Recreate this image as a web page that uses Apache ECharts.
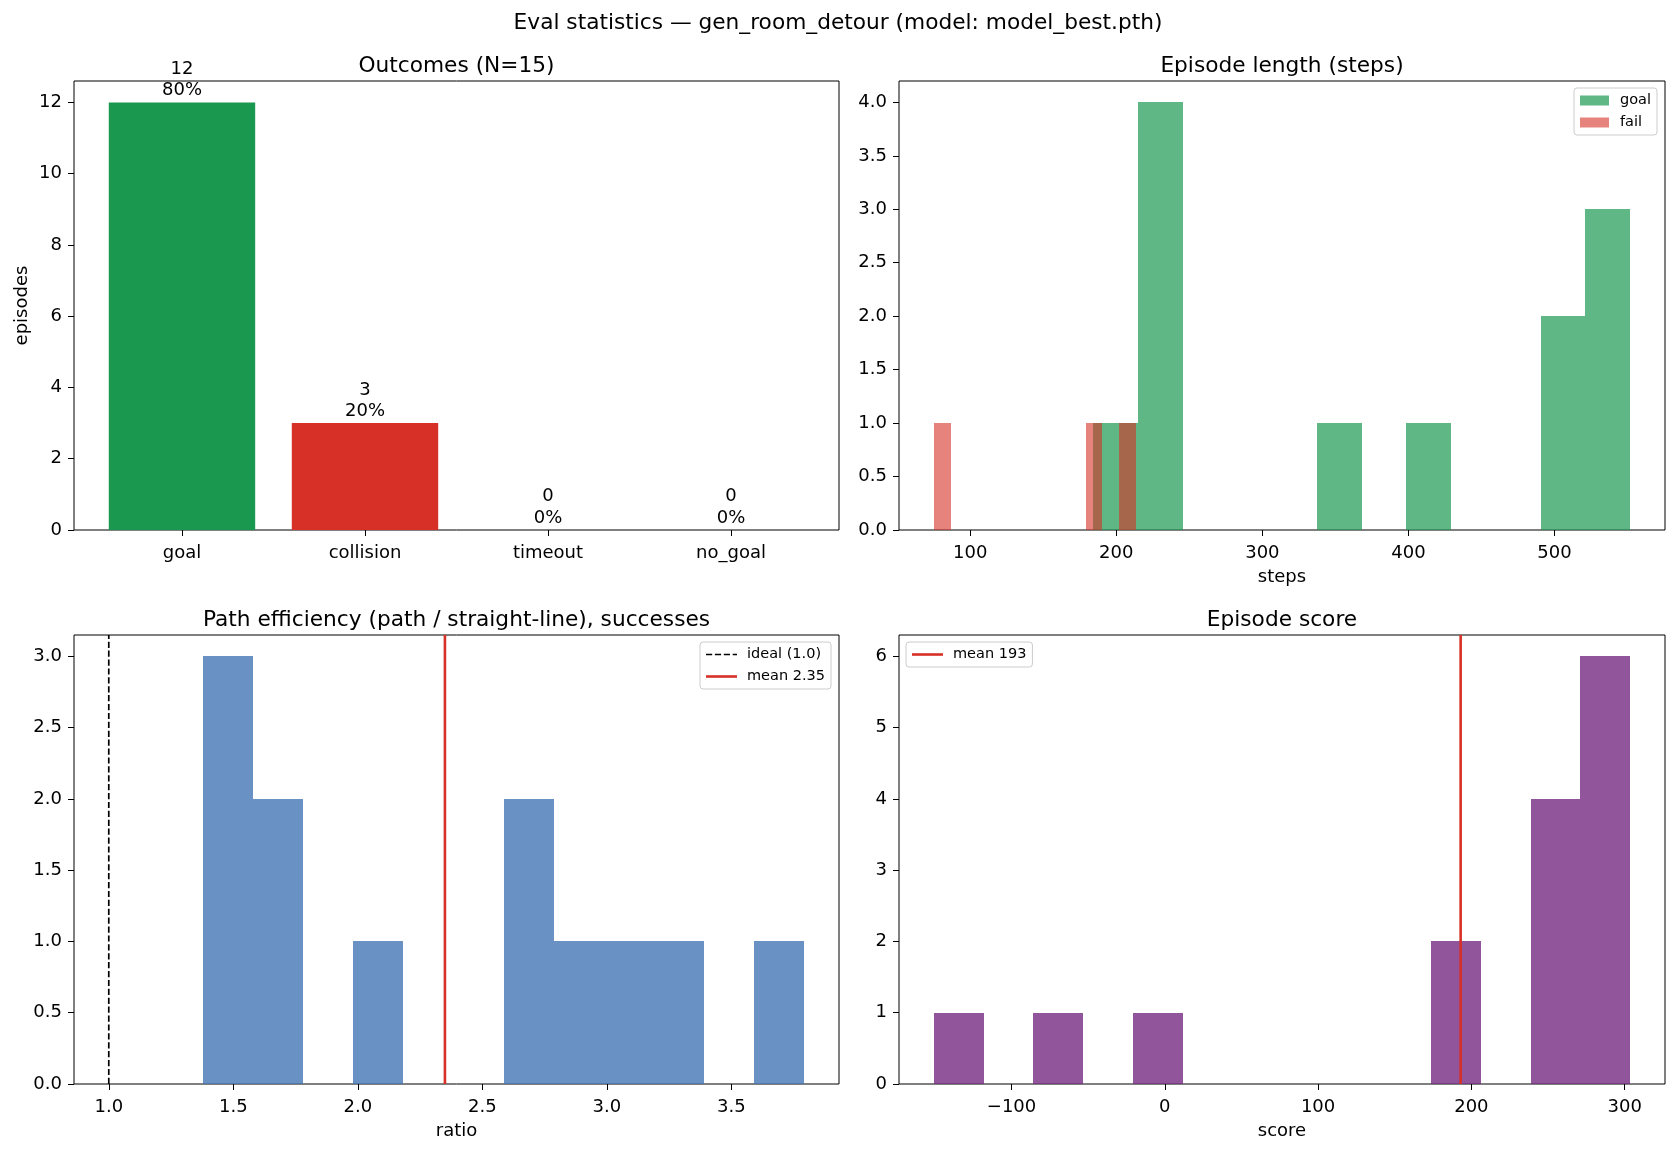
<!DOCTYPE html>
<html><head><meta charset="utf-8">
<script src="https://cdn.jsdelivr.net/npm/echarts@6/dist/echarts.min.js"></script>
<style>html,body{margin:0;padding:0;background:#fff}#c{width:1676px;height:1152px}</style>
</head><body><div id="c"></div>
<script>
// ---------- data ----------
const suptitleText = 'Eval statistics \u2014 gen_room_detour (model: model_best.pth)';
const outcomeCategories = ['goal', 'collision', 'timeout', 'no_goal'];
const outcomeCounts = [12, 3, 0, 0];
const outcomeColors = ['#1a9850', '#d73027', '#fee08b', '#91bfdb'];
const outcomeYTicks = [0, 2, 4, 6, 8, 10, 12];

const lenGoalRange = [184.3, 551.8];
const lenGoalCounts = [1, 4, 0, 0, 0, 1, 0, 1, 0, 0, 2, 3];
const lenFailRange = [75.1, 213.6];
const lenFailCounts = [1, 0, 0, 0, 0, 0, 0, 0, 0, 1, 0, 1];
const lenXTicks = [100, 200, 300, 400, 500];
const lenYTicks = [0, 0.5, 1, 1.5, 2, 2.5, 3, 3.5, 4];

const effRange = [1.378, 3.793];
const effCounts = [3, 2, 0, 1, 0, 0, 2, 1, 1, 1, 0, 1];
const effIdeal = 1.0;
const effMean = 2.35;
const effXTicks = [1.0, 1.5, 2.0, 2.5, 3.0, 3.5];
const effYTicks = [0, 0.5, 1, 1.5, 2, 2.5, 3];

const scoreRange = [-150.7, 303.6];
const scoreCounts = [1, 0, 1, 0, 1, 0, 0, 0, 0, 0, 2, 0, 4, 6];
const scoreMean = 193;
const scoreXTicks = [-100, 0, 100, 200, 300];
const scoreYTicks = [0, 1, 2, 3, 4, 5, 6];

// ---------- helpers ----------
const FONT = "'DejaVu Sans', sans-serif";
const TICK_FS = 18, TITLE_FS = 21.7, LEG_FS = 14.5;
const N = outcomeCounts.reduce((a, b) => a + b, 0);

function histBins(range, counts) {
  const w = (range[1] - range[0]) / counts.length;
  return counts.map((c, i) => [range[0] + i * w, range[0] + (i + 1) * w, c]).filter(d => d[2] > 0);
}
function padExtent(lo, hi) { const m = (hi - lo) * 0.05; return [lo - m, hi + m]; }

const outY = [0, Math.max(...outcomeCounts) * 1.05];
const outX = padExtent(-0.4, outcomeCounts.length - 1 + 0.4);
const lenX = padExtent(Math.min(lenGoalRange[0], lenFailRange[0]), Math.max(lenGoalRange[1], lenFailRange[1]));
const lenY = [0, Math.max(...lenGoalCounts, ...lenFailCounts) * 1.05];
const effX = padExtent(Math.min(effIdeal, effRange[0]), Math.max(effRange[1], effMean));
const effY = [0, Math.max(...effCounts) * 1.05];
const scoreX = padExtent(scoreRange[0], scoreRange[1]);
const scoreY = [0, Math.max(...scoreCounts) * 1.05];

const grids = [
  {left: 74, top: 81, width: 765, height: 449},
  {left: 899, top: 81, width: 766, height: 449},
  {left: 74, top: 635, width: 765, height: 449},
  {left: 899, top: 635, width: 766, height: 449}
].map(g => Object.assign(g, {show: true, borderColor: '#000', borderWidth: 1, backgroundColor: 'transparent', containLabel: false}));

function xAxis(gi, ext, ticks, fmt, name) {
  return {
    type: 'value', gridIndex: gi, min: ext[0], max: ext[1],
    axisLine: {show: false, onZero: false}, splitLine: {show: false},
    axisTick: {show: true, length: 6, customValues: ticks, lineStyle: {color: '#000', width: 1}},
    axisLabel: {customValues: ticks, formatter: fmt, color: '#000', fontSize: TICK_FS, fontFamily: FONT, margin: 14.5},
    name: name || '', nameLocation: 'middle', nameGap: 38,
    nameTextStyle: {color: '#000', fontSize: TICK_FS, fontFamily: FONT}
  };
}
function yAxis(gi, ext, ticks, fmt, name) {
  return {
    type: 'value', gridIndex: gi, min: ext[0], max: ext[1],
    axisLine: {show: false, onZero: false}, splitLine: {show: false},
    axisTick: {show: true, length: 6, customValues: ticks, lineStyle: {color: '#000', width: 1}},
    axisLabel: {customValues: ticks, formatter: fmt, color: '#000', fontSize: TICK_FS, fontFamily: FONT, margin: 12},
    name: name || '', nameLocation: 'middle', nameGap: 43, nameRotate: 90,
    nameTextStyle: {color: '#000', fontSize: TICK_FS, fontFamily: FONT}
  };
}
const fmtInt = v => String(Math.round(v)).replace('-', '\u2212');
const fmt1 = v => Number(v).toFixed(1);

function histRender(params, api) {
  const a = api.coord([api.value(0), 0]);
  const b = api.coord([api.value(1), api.value(2)]);
  const x0 = Math.round(a[0]), x1 = Math.round(b[0]);
  const y0 = Math.round(a[1]), y1 = Math.round(b[1]);
  return {type: 'rect', shape: {x: x0, y: y1, width: x1 - x0, height: y0 - y1},
          style: {fill: api.visual('color')}};
}
function histSeries(name, gi, range, counts, color) {
  return {
    type: 'custom', name: name, coordinateSystem: 'cartesian2d', xAxisIndex: gi, yAxisIndex: gi,
    itemStyle: {color: color}, encode: {x: [0, 1], y: 2},
    data: histBins(range, counts), renderItem: histRender, silent: true
  };
}
function vline(name, gi, xv, yMax, color, width, type) {
  return {
    type: 'line', name: name, xAxisIndex: gi, yAxisIndex: gi, symbol: 'none', silent: true,
    data: [[xv, 0], [xv, yMax]], itemStyle: {color: color},
    lineStyle: {color: color, width: width, type: type}, z: 5
  };
}

const outcomeSeries = {
  type: 'custom', name: 'outcomes', coordinateSystem: 'cartesian2d', xAxisIndex: 0, yAxisIndex: 0,
  encode: {x: 0, y: 1}, silent: true,
  data: outcomeCounts.map((c, i) => [i, c]),
  renderItem: function (params, api) {
    const i = api.value(0), c = api.value(1);
    const a = api.coord([i - 0.4, 0]);
    const b = api.coord([i + 0.4, c]);
    const pct = Math.round(100 * c / N);
    return {type: 'group', children: [
      {type: 'rect', shape: {x: a[0], y: b[1], width: b[0] - a[0], height: a[1] - b[1]},
       style: {fill: outcomeColors[i]}},
      {type: 'text', x: (a[0] + b[0]) / 2, y: b[1] - 1,
       style: {text: c + '\n' + pct + '%', align: 'center', verticalAlign: 'bottom',
               fontSize: TICK_FS, fontFamily: FONT, fill: '#000', lineHeight: 21.5}}
    ]};
  }
};

// legend icons for vertical reference lines (horizontal stroke samples)
const solidIcon = 'path://M0,0h31v2.6h-31z';
const dashedIcon = 'path://M0,0h6.2v1.7h-6.2z M8.9,0h6.2v1.7h-6.2z M17.8,0h6.2v1.7h-6.2z M26.7,0h4.3v1.7h-4.3z';

const legendCommon = {
  orient: 'vertical', padding: [5, 6, 5, 6], itemGap: 7,
  borderColor: '#cccccc', borderWidth: 1, borderRadius: 3, backgroundColor: 'rgba(255,255,255,0.8)',
  textStyle: {color: '#000', fontSize: LEG_FS, fontFamily: FONT, padding: [0, 0, 0, 6]},
  selectedMode: false
};
const meanEffName = 'mean ' + effMean.toFixed(2);
const idealName = 'ideal (' + effIdeal.toFixed(1) + ')';
const meanScoreName = 'mean ' + Math.round(scoreMean);

function titleText(x, y, text) {
  return {type: 'text', x: x, y: y, style: {text: text, align: 'center', verticalAlign: 'middle',
          fontSize: TITLE_FS, fontFamily: FONT, fill: '#000'}};
}

const option = {
  animation: false,
  backgroundColor: '#fff',
  grid: grids,
  xAxis: [
    xAxis(0, outX, [0, 1, 2, 3], v => outcomeCategories[Math.round(v)]),
    xAxis(1, lenX, lenXTicks, fmtInt, 'steps'),
    xAxis(2, effX, effXTicks, fmt1, 'ratio'),
    xAxis(3, scoreX, scoreXTicks, fmtInt, 'score')
  ],
  yAxis: [
    yAxis(0, outY, outcomeYTicks, fmtInt, 'episodes'),
    yAxis(1, lenY, lenYTicks, fmt1),
    yAxis(2, effY, effYTicks, fmt1),
    yAxis(3, scoreY, scoreYTicks, fmtInt)
  ],
  legend: [
    Object.assign({}, legendCommon, {right: 19, top: 88, itemWidth: 29, itemHeight: 10,
      data: [{name: 'goal', icon: 'rect'}, {name: 'fail', icon: 'rect'}]}),
    Object.assign({}, legendCommon, {right: 845, top: 642, itemWidth: 31, itemHeight: 14,
      textStyle: Object.assign({}, legendCommon.textStyle, {padding: [0, 0, 0, 5]}),
      data: [{name: idealName, icon: dashedIcon}, {name: meanEffName, icon: solidIcon}]}),
    Object.assign({}, legendCommon, {left: 906, top: 642, itemWidth: 31, itemHeight: 14,
      textStyle: Object.assign({}, legendCommon.textStyle, {padding: [0, 0, 0, 5]}),
      data: [{name: meanScoreName, icon: solidIcon}]})
  ],
  series: [
    outcomeSeries,
    histSeries('goal', 1, lenGoalRange, lenGoalCounts, 'rgba(26,152,80,0.7)'),
    histSeries('fail', 1, lenFailRange, lenFailCounts, 'rgba(215,48,39,0.6)'),
    histSeries('efficiency', 2, effRange, effCounts, 'rgba(69,117,180,0.8)'),
    vline(idealName, 2, effIdeal, effY[1], '#000', 1.7, [6.2, 2.7]),
    vline(meanEffName, 2, effMean, effY[1], '#d73027', 2.6, 'solid'),
    histSeries('score', 3, scoreRange, scoreCounts, 'rgba(118,42,131,0.8)'),
    vline(meanScoreName, 3, scoreMean, scoreY[1], '#d73027', 2.6, 'solid')
  ],
  graphic: [
    titleText(838, 23, suptitleText),
    titleText(456.5, 66, 'Outcomes (N=' + N + ')'),
    titleText(1282, 66, 'Episode length (steps)'),
    titleText(456.5, 620, 'Path efficiency (path / straight-line), successes'),
    titleText(1282, 620, 'Episode score')
  ]
};

const chart = echarts.init(document.getElementById('c'), null, {renderer: 'canvas'});
chart.setOption(option);
</script>
</body></html>
